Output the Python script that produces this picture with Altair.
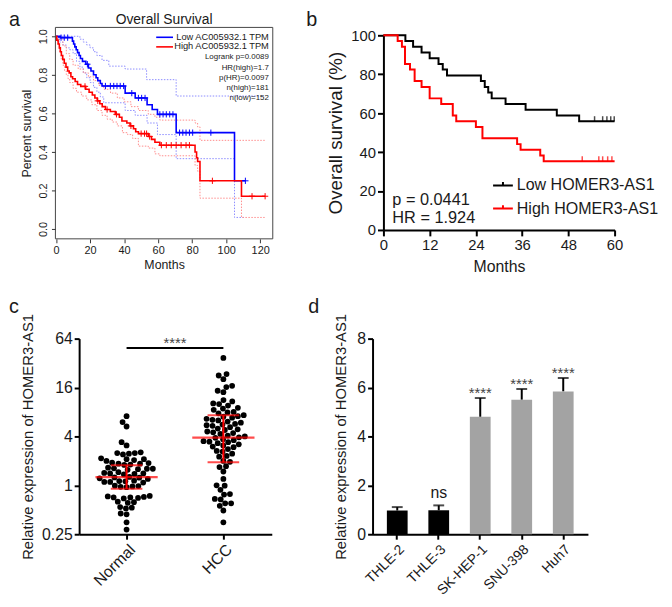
import altair as alt
import numpy as np
import pandas as pd

FONT = "Liberation Sans"
INK = "#1a1a1a"
W, H = 664, 599          # whole drawing; view origin sits at page (8, 8)

panel_letters = ["a", "b", "c", "d"]

# ---------------- panel a : GEPIA Kaplan-Meier ----------------
a_title = "Overall Survival"
a_groups = ["Low AC005932.1 TPM", "High AC005932.1 TPM"]
a_colors = ["#0000ff", "#ff0000"]
a_ci_colors = ["#8c8cff", "#ff8c8c"]
a_stats = ["Logrank p=0.0089", "HR(high)=1.7", "p(HR)=0.0097", "n(high)=181", "n(low)=152"]
a_xticks = [0, 20, 40, 60, 80, 100, 120]
a_yticks = [0.0, 0.2, 0.4, 0.6, 0.8, 1.0]

a_low_t = [0, 2.6, 9.6, 10.3, 11.0, 11.8, 12.6, 13.5, 14.3, 15.5, 17.5, 19.0, 20.5, 22.0, 23.5,
           24.5, 26.0, 27.0, 40.6, 46.5, 53.5, 56.5, 59.6, 70.6, 104.9, 111.3]
a_low_s = [1.0, 0.993, 0.975, 0.96, 0.945, 0.93, 0.915, 0.90, 0.885, 0.87, 0.855, 0.835, 0.82, 0.80, 0.785,
           0.77, 0.755, 0.742, 0.705, 0.68, 0.645, 0.62, 0.595, 0.50, 0.25, 0.25]
a_high_t = [0, 0.4, 1.2, 1.9, 2.5, 3.1, 3.9, 4.8, 5.8, 6.8, 7.7, 8.7, 9.7, 11.2, 12.6, 14.5, 17.4, 19.4,
            21.3, 22.8, 24.2, 25.7, 27.1, 29.0, 31.9, 34.8, 37.2, 38.7, 41.6, 43.5, 45.5, 46.8, 48.4,
            54.2, 56.1, 58.1, 61.0, 81.7, 82.6, 83.2, 84.6, 109.0, 122.9]
a_high_s = [1.0, 0.98, 0.96, 0.94, 0.92, 0.90, 0.88, 0.86, 0.84, 0.82, 0.81, 0.79, 0.78, 0.765, 0.75, 0.74,
            0.725, 0.71, 0.695, 0.68, 0.665, 0.65, 0.635, 0.62, 0.61, 0.595, 0.58, 0.56, 0.55, 0.535,
            0.52, 0.505, 0.495, 0.48, 0.465, 0.45, 0.435, 0.40, 0.37, 0.35, 0.25, 0.17, 0.17]
a_low_cens = [2.9, 4.8, 6.8, 18.4, 29.0, 31.9, 33.9, 35.8, 37.7, 39.7, 44.5, 48.4, 50.3, 52.3, 61.0,
              62.9, 64.8, 66.8, 68.7, 72.6, 74.5, 76.4, 78.4, 80.3, 91.0, 111.3]
a_high_cens = [17.0, 24.5, 30.0, 35.5, 44.0, 50.0, 52.0, 53.2, 55.0, 61.9, 64.8, 67.7, 70.6, 73.5,
               76.4, 78.4, 91.9, 115.2, 122.9]

a_low_ci_hi_t = [0, 12, 14, 16, 18, 20, 22, 24, 27, 31, 40.6, 53.2, 70.6, 122]
a_low_ci_hi_s = [1.0, 1.0, 0.985, 0.97, 0.955, 0.94, 0.92, 0.90, 0.875, 0.845, 0.83, 0.775, 0.69, 0.69]
a_low_ci_lo_t = [0, 2, 4, 6, 8, 10, 12, 14, 16, 18, 20, 22, 24, 26, 28, 40.6, 46.5, 53.5, 59.6, 70.6,
                 104.9, 111.3]
a_low_ci_lo_s = [1.0, 0.97, 0.955, 0.94, 0.93, 0.91, 0.87, 0.84, 0.81, 0.785, 0.76, 0.735, 0.71, 0.685,
                 0.655, 0.615, 0.59, 0.55, 0.49, 0.365, 0.06, 0.06]
a_high_ci_hi_t = [0, 2, 4, 6, 8, 10, 13, 16, 19, 22, 25, 28, 32, 36, 40, 44, 48.4, 54.2, 58.1, 61.0,
                  81.7, 83.2, 84.6, 122.9]
a_high_ci_hi_s = [1.0, 0.99, 0.95, 0.91, 0.88, 0.85, 0.83, 0.81, 0.79, 0.77, 0.745, 0.725, 0.705, 0.68,
                  0.66, 0.635, 0.615, 0.595, 0.58, 0.565, 0.55, 0.53, 0.46, 0.46]
a_high_ci_lo_t = [0, 1, 2, 3, 4, 5, 6, 7, 8, 10, 12, 15, 18, 21, 24, 27, 30, 33, 36, 39, 42, 45, 48.4,
                  54.2, 58.1, 61.0, 81.7, 83.2, 84.6, 109.0, 122.9]
a_high_ci_lo_s = [1.0, 0.96, 0.92, 0.88, 0.85, 0.82, 0.80, 0.78, 0.76, 0.73, 0.71, 0.69, 0.67, 0.645,
                  0.615, 0.59, 0.57, 0.555, 0.535, 0.50, 0.49, 0.47, 0.43, 0.42, 0.39, 0.38, 0.33, 0.30,
                  0.16, 0.06, 0.06]

# ---------------- panel b : cohort Kaplan-Meier ----------------
b_groups = ["Low HOMER3-AS1", "High HOMER3-AS1"]
b_colors = ["#000000", "#ff0000"]
b_stats = ["p = 0.0441", "HR = 1.924"]
b_xticks = [0, 12, 24, 36, 48, 60]
b_yticks = [0, 20, 40, 60, 80, 100]
b_low_t = [0, 5.7, 7.7, 9.9, 12.0, 14.3, 15.4, 16.5, 25.3, 26.3, 27.2, 28.1, 31.7, 36.9, 45.0, 50.8, 60]
b_low_s = [100, 97.1, 94.1, 91.2, 88.2, 85.3, 82.4, 79.4, 76.5, 73.5, 70.6, 67.6, 64.7, 61.8, 58.8, 55.9, 55.9]
b_high_t = [0, 3.7, 4.8, 5.6, 6.9, 8.1, 9.9, 12.0, 15.0, 18.0, 18.9, 24.0, 25.7, 34.7, 35.6, 40.7, 41.6, 60]
b_high_s = [100, 97.1, 94.1, 85.3, 82.4, 76.5, 73.5, 67.6, 64.7, 58.8, 55.9, 52.9, 47.1, 44.1, 41.2, 38.2,
            35.3, 35.3]
b_low_cens = [54.8, 56.9, 58.0, 59.0, 59.9]
b_high_cens = [51.6, 55.9, 56.9, 58.2, 59.3]

# ---------------- panel c : scatter on log2 axis ----------------
c_groups = ["Normal", "HCC"]
c_yticks = [0.25, 1, 4, 16, 64]
c_normal = [7.1, 6.0, 5.3, 3.4, 3.1,
            2.55, 2.5, 2.45, 2.5, 2.4,
            2.15, 2.1, 2.05, 2.1, 2.0,
            1.9, 1.85, 1.8, 1.85, 1.78, 1.88,
            1.65, 1.6, 1.55, 1.6, 1.58, 1.62,
            1.45, 1.4, 1.36, 1.42, 1.38, 1.4,
            1.27, 1.24, 1.2, 1.22, 1.25,
            1.14, 1.1, 1.12, 1.08, 1.13, 1.1,
            0.99, 0.97, 0.95, 0.98, 0.96,
            0.73, 0.71, 0.7, 0.72, 0.69, 0.71, 0.74,
            0.62, 0.61, 0.63, 0.53, 0.52, 0.54, 0.44, 0.45, 0.35, 0.285]
c_hcc = [37, 23.4, 22.5, 20.3, 16.8, 16.2, 14.6, 14.0, 11.2, 10.8,
         10.2, 10.0, 9.6, 9.0, 8.8, 8.5, 8.0, 7.9, 7.7,
         7.3, 7.1, 7.0, 6.8, 6.6, 6.4, 6.3, 6.1, 5.9,
         5.7, 5.6, 5.5, 5.4, 5.2, 5.0, 4.9, 4.8, 4.6,
         4.5, 4.4, 4.3, 4.1, 4.0, 3.9, 3.85, 3.7, 3.6,
         3.5, 3.45, 3.4, 3.3, 3.2, 3.1, 3.0, 2.95, 2.8,
         2.65, 2.6, 2.45, 2.3, 2.25, 2.0, 1.95, 1.72, 1.68, 1.48, 1.2,
         1.0, 0.99, 0.88, 0.77, 0.78, 0.67, 0.68, 0.6, 0.6, 0.56, 0.49, 0.35]
c_center = [1.26, 3.87]
c_upper = [1.77, 7.3]
c_lower = [0.91, 1.92]
c_sig_from, c_sig_to, c_sig_y, c_sig_label = [0], [1], [49], ["****"]

# ---------------- panel d : bars ----------------
d_lines = ["THLE-2", "THLE-3", "SK-HEP-1", "SNU-398", "Huh7"]
d_mean = [0.97, 0.98, 4.8, 5.5, 5.84]
d_err = [0.14, 0.2, 0.77, 0.44, 0.55]
d_kind = ["normal", "normal", "cancer", "cancer", "cancer"]
d_sig = ["", "ns", "****", "****", "****"]
d_yticks = [0, 2, 4, 6, 8]

ylab = "Relative expression of HOMER3-AS1"
one = pd.DataFrame({"k": [0]})

# plot boxes in view pixels (left, right, top, bottom)
A_BOX = (48, 268, 16, 230)
B_BOX = (380, 614, 24, 221)
C_BOX = (72, 267, 331, 529)
D_BOX = (369, 587, 331, 529)


def km_df(t, s, grp):
    return pd.DataFrame({"t": t, "s": s, "grp": grp})


def step_at(ts, ss, q):
    idx = np.searchsorted(np.asarray(ts, dtype=float), np.asarray(q, dtype=float), side="right") - 1
    return [ss[i] for i in idx]


def txt(text, x, y, size, align="left", baseline="alphabetic", color=INK, **kw):
    return alt.Chart(one).mark_text(text=text, fontSize=size, align=align, baseline=baseline,
                                    color=color, **kw).encode(x=alt.value(x), y=alt.value(y))


def common_axis(**kw):
    return alt.Axis(grid=False, labelFlush=False, labelOverlap=False, **kw)


# ======================= panel a =======================
l, r, t, b = A_BOX
xa = alt.X("t:Q", scale=alt.Scale(domain=[-0.4, 127.4], range=[l, r], nice=False, zero=False),
           axis=common_axis(orient="bottom", offset=b - H, values=a_xticks, title="Months",
                            domain=False, tickSize=4, tickWidth=1, tickColor="#333", labelFontSize=11,
                            labelPadding=2, titleFontSize=12.5, titlePadding=3))
ya = alt.Y("s:Q", scale=alt.Scale(domain=[-0.051, 1.046], range=[b, t], nice=False, zero=False),
           axis=common_axis(orient="left", offset=-l, values=a_yticks, format=".1f",
                            title="Percent survival", domain=False, tickSize=4, tickWidth=1,
                            tickColor="#333", labelFontSize=11, labelAngle=270, labelAlign="center",
                            labelBaseline="bottom", labelPadding=3, titleFontSize=12.5, titlePadding=4))
a_color = alt.Color("grp:N", scale=alt.Scale(domain=a_groups, range=a_colors), legend=None)

a_layers = [alt.Chart(one).mark_rect(filled=False, stroke="#444", strokeWidth=1).encode(
    x=alt.value(l), x2=alt.value(r), y=alt.value(t), y2=alt.value(b))]
for (hi_t, hi_s, lo_t, lo_s), col in zip(
        [(a_low_ci_hi_t, a_low_ci_hi_s, a_low_ci_lo_t, a_low_ci_lo_s),
         (a_high_ci_hi_t, a_high_ci_hi_s, a_high_ci_lo_t, a_high_ci_lo_s)], a_ci_colors):
    ci = pd.concat([km_df(hi_t, hi_s, "hi"), km_df(lo_t, lo_s, "lo")])
    a_layers.append(alt.Chart(ci).mark_line(interpolate="step-after", color=col, strokeWidth=1,
                                            strokeDash=[1.5, 1.5]).encode(x=xa, y=ya, detail="grp:N"))
a_main = pd.concat([km_df(a_low_t, a_low_s, a_groups[0]), km_df(a_high_t, a_high_s, a_groups[1])])
a_layers.append(alt.Chart(a_main).mark_line(interpolate="step-after", strokeWidth=1.6)
                .encode(x=xa, y=ya, color=a_color))
a_cens = pd.concat([
    km_df(a_low_cens, step_at(a_low_t, a_low_s, a_low_cens), a_groups[0]),
    km_df(a_high_cens, step_at(a_high_t, a_high_s, a_high_cens), a_groups[1])])
a_layers.append(alt.Chart(a_cens).mark_point(shape="M-1,0L1,0M0,-1L0,1", size=40, filled=False,
                                             strokeWidth=1, opacity=1)
                .encode(x=xa, y=ya, color=a_color))
for i, col in enumerate(a_colors):
    a_layers.append(alt.Chart(one).mark_rule(color=col, strokeWidth=1.6)
                    .encode(x=alt.value(l + 102), x2=alt.value(l + 119), y=alt.value(t + 10 + 9.7 * i)))
a_layers.append(txt(a_groups, l + 216, t + 5.3, 9.4, align="right", baseline="top", lineHeight=9.7))
a_layers.append(txt(a_stats, l + 216, t + 26.3, 8, align="right", baseline="top", lineHeight=10.35))
a_layers.append(txt(a_title, (l + r) / 2, t - 3, 14, align="center"))
a_layers.append(txt(panel_letters[0], 1, 15, 20))
panel_a = alt.layer(*a_layers)

# ======================= panel b =======================
l, r, t, b = B_BOX
xb = alt.X("t:Q", scale=alt.Scale(domain=[0, 60], range=[l, r], nice=False, zero=False),
           axis=common_axis(orient="bottom", offset=b - H, values=b_xticks, title="Months",
                            tickSize=6, tickWidth=2, domainWidth=2, labelFontSize=15, labelPadding=2,
                            titleFontSize=16, titlePadding=6))
yb = alt.Y("s:Q", scale=alt.Scale(domain=[0, 100], range=[b, t], nice=False, zero=False),
           axis=common_axis(orient="left", offset=-l, values=b_yticks,
                            title="Overall survival (%)", tickSize=6, tickWidth=2, domainWidth=2,
                            labelFontSize=15, labelPadding=2, titleFontSize=19, titlePadding=5))
b_main = pd.concat([km_df(b_low_t, b_low_s, b_groups[0]), km_df(b_high_t, b_high_s, b_groups[1])])
b_layers = [alt.Chart(b_main).mark_line(interpolate="step-after", strokeWidth=2).encode(
    x=xb, y=yb,
    color=alt.Color("grp:N", scale=alt.Scale(domain=b_groups, range=b_colors),
                    legend=alt.Legend(title=None, orient="none", legendX=490, legendY=165,
                                      symbolType="M-1,0H1M0,0V-0.35", symbolSize=400,
                                      symbolStrokeWidth=2, labelFontSize=16.2, labelOffset=3,
                                      rowPadding=3.4, padding=0, labelColor=INK)))]
for cens, tt, ss, col in [(b_low_cens, b_low_t, b_low_s, b_colors[0]),
                          (b_high_cens, b_high_t, b_high_s, b_colors[1])]:
    cdf = km_df(cens, step_at(tt, ss, cens), "c")
    b_layers.append(alt.Chart(cdf).mark_tick(orient="vertical", size=5, thickness=1.5, yOffset=-2.5,
                                             color=col).encode(x=xb, y=yb))
b_layers.append(txt(b_stats, l + 9, 196, 16.5, lineHeight=17.7))
b_layers.append(txt(panel_letters[1], 302, 15, 20))
panel_b = alt.layer(*b_layers)

# ======================= panel c =======================
l, r, t, b = C_BOX
CX_DOMAIN = [-0.49, 1.5]
PX_PER_UNIT = (r - l) / (CX_DOMAIN[1] - CX_DOMAIN[0])
PX_PER_LOG2 = (b - t) / 8.0


def swarm(vals, d=6.0):
    """Deterministic beeswarm layout: horizontal offsets so dots do not pile up."""
    ys = np.log2(np.asarray(vals, dtype=float)) * PX_PER_LOG2
    xs = np.zeros(len(ys))
    placed = []
    for i in np.argsort(ys):
        y = ys[i]
        near = [(px, py) for px, py in placed if abs(py - y) < d]
        cands = [0.0]
        for px, py in near:
            dxx = np.sqrt(d * d - (py - y) ** 2)
            cands += [px + dxx, px - dxx]
        for c in sorted(cands, key=lambda v: (abs(v), v)):
            if all((c - px) ** 2 + (y - py) ** 2 >= d * d - 1e-6 for px, py in near):
                xs[i] = c
                break
        placed.append((xs[i], y))
    return xs / PX_PER_UNIT


c_pts = pd.concat([
    pd.DataFrame({"v": vals, "xp": gi + swarm(vals)}) for gi, vals in enumerate([c_normal, c_hcc])])
label_expr = f"datum.value == 0 ? '{c_groups[0]}' : '{c_groups[1]}'"
c_xscale = alt.Scale(domain=CX_DOMAIN, range=[l, r], nice=False, zero=False)
c_xaxis = common_axis(orient="bottom", offset=b - H, values=[0, 1], labelExpr=label_expr,
                      title=None, labelAngle=-45, labelAlign="right", labelBaseline="top",
                      labelFontSize=16, labelPadding=2, tickSize=5, tickWidth=2, domainWidth=2)
c_yscale = alt.Scale(type="log", base=2, domain=[0.25, 64], range=[b, t], nice=False)
c_yaxis = common_axis(orient="left", offset=-l, values=c_yticks, format="~g", title=ylab,
                      tickSize=5, tickWidth=2, domainWidth=2, labelFontSize=16, labelPadding=2,
                      titleFontSize=15, titlePadding=6)


def cx(f):
    return alt.X(f"{f}:Q", scale=c_xscale, axis=c_xaxis)


def cy(f):
    return alt.Y(f"{f}:Q", scale=c_yscale, axis=c_yaxis)


c_sum = pd.DataFrame({"g": [0, 1], "center": c_center, "upper": c_upper, "lower": c_lower})
c_sig = pd.DataFrame({"x0": c_sig_from, "x1": c_sig_to, "y": c_sig_y, "label": c_sig_label})
c_sig["xm"] = (c_sig["x0"] + c_sig["x1"]) / 2
c_layers = [
    alt.Chart(c_pts).mark_circle(size=34, color="black", opacity=1).encode(x=cx("xp"), y=cy("v")),
    alt.Chart(c_sum).mark_rule(color="#ff0000", strokeWidth=2).encode(x=cx("g"), y=cy("lower"), y2="upper:Q"),
    alt.Chart(c_sum).mark_tick(orient="horizontal", size=63, thickness=2.2, color="#ff0000").encode(
        x=cx("g"), y=cy("center")),
    alt.Chart(c_sum).mark_tick(orient="horizontal", size=32, thickness=2, color="#ff0000").encode(
        x=cx("g"), y=cy("upper")),
    alt.Chart(c_sum).mark_tick(orient="horizontal", size=32, thickness=2, color="#ff0000").encode(
        x=cx("g"), y=cy("lower")),
    alt.Chart(c_sig).mark_rule(color="black", strokeWidth=2).encode(x=cx("x0"), x2="x1:Q", y=cy("y")),
    alt.Chart(c_sig).mark_text(fontSize=15, color="#444", baseline="alphabetic").encode(
        x=cx("xm"), y=cy("y"), text="label:N"),
    txt(panel_letters[2], 1, 305, 20),
]
panel_c = alt.layer(*c_layers)

# ======================= panel d =======================
l, r, t, b = D_BOX
d_df = pd.DataFrame({"line": d_lines, "mean": d_mean, "err": d_err, "kind": d_kind, "sig": d_sig})
d_df["top"] = d_df["mean"] + d_df["err"]
dx = alt.X("line:N", sort=d_lines,
           scale=alt.Scale(range=[l, r], paddingInner=0.5, paddingOuter=0.345),
           axis=common_axis(orient="bottom", offset=b - H, title=None, labelAngle=-45,
                            labelAlign="right", labelBaseline="top", labelFontSize=14, labelPadding=3,
                            tickSize=5, tickWidth=2, domainWidth=2))
d_yscale = alt.Scale(domain=[0, 8], range=[b, t], nice=False, zero=True)
d_yaxis = common_axis(orient="left", offset=-l, values=d_yticks, title=ylab, tickSize=5,
                      tickWidth=2, domainWidth=2, labelFontSize=16, labelPadding=2, titleFontSize=15,
                      titlePadding=8)


def dy(f):
    return alt.Y(f"{f}:Q", scale=d_yscale, axis=d_yaxis)


d_layers = [
    alt.Chart(d_df).mark_rule(strokeWidth=2, color="black").encode(x=dx, y=dy("mean"), y2="top:Q"),
    alt.Chart(d_df).mark_tick(orient="horizontal", size=11, thickness=2, color="black").encode(
        x=dx, y=dy("top")),
    alt.Chart(d_df).mark_bar().encode(
        x=dx, y=dy("mean"),
        color=alt.Color("kind:N", scale=alt.Scale(domain=["normal", "cancer"], range=["#000000", "#a3a3a3"]),
                        legend=None)),
    alt.Chart(d_df).transform_filter("datum.sig == '****'").mark_text(
        fontSize=15, color="#444", baseline="alphabetic").encode(x=dx, y=dy("top"), text="sig:N"),
    alt.Chart(d_df).transform_filter("datum.sig == 'ns'").mark_text(
        fontSize=16, color=INK, baseline="alphabetic", dy=-7).encode(x=dx, y=dy("top"), text="sig:N"),
    txt(panel_letters[3], 304, 305, 20),
]
panel_d = alt.layer(*d_layers)

chart = (alt.layer(panel_a, panel_b, panel_c, panel_d)
         .resolve_scale(x="independent", y="independent", color="independent")
         .resolve_axis(x="independent", y="independent")
         .resolve_legend(color="independent")
         .properties(width=W, height=H, padding=0, autosize=alt.AutoSizeParams(type="none"))
         .configure(font=FONT)
         .configure_view(stroke=None)
         .configure_axis(grid=False, titleFontWeight="normal", domainColor="black", tickColor="black",
                         labelColor=INK, titleColor=INK)
         .configure_text(font=FONT))

chart.save("out.html", embed_options={"renderer": "svg", "actions": False})
